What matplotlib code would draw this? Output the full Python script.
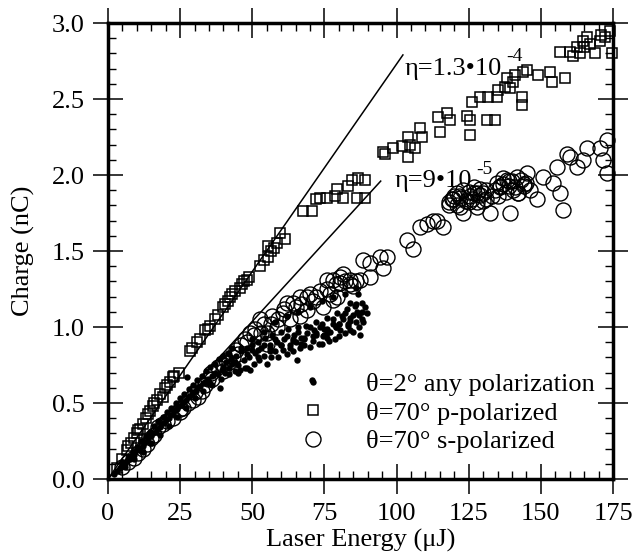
import matplotlib
matplotlib.use("Agg")
import matplotlib.pyplot as plt
from matplotlib.ticker import MultipleLocator

plt.rcParams["font.family"] = ["Liberation Serif", "DejaVu Serif"]
plt.rcParams["font.size"] = 19

# theta = 2 deg, any polarization (small dots)
dot_e = [2, 3, 4, 4.5, 5, 6, 6.5, 7.5, 8, 9, 9.5, 10.5, 11, 12, 12.5, 13.5, 14, 15, 15.5, 16.5,
         17, 18, 18.5, 19.5, 20, 21, 21.5, 22.5, 23, 24, 24.5, 25.5, 26, 27, 27.3, 28, 29, 29.5,
         30.5, 31, 32, 33, 33.5, 34.5, 35, 36, 37, 38, 38.8, 39.5,
         40, 40.5, 41, 42, 42.5, 43, 44, 44.5, 45, 45.7, 46, 47, 47.5, 48, 49, 49.2, 50, 50.5,
         51, 52, 52.5, 53, 54, 54.5, 55, 56, 56.5, 57, 58, 58.5, 59, 60, 60.6, 61, 62, 62.5,
         63, 64, 64.5, 65, 65.5, 66, 66.5, 67, 68, 68.5, 69, 70, 70.7, 71, 71.5, 72, 73, 73.5,
         74, 74.5, 75, 75.9, 76, 76.5, 77, 78, 78.5, 79, 79.3, 80, 80.4, 81, 81.4, 82, 82.8,
         83, 83.9, 84, 84.9, 85, 85.5, 86, 86.3, 86.6, 87, 87.3, 88, 88.4, 89, 89.7,
         42, 46, 50, 54, 58, 62, 66, 70, 74, 78, 82, 86,
         44, 48, 52, 56, 60, 64, 68, 72, 76, 80, 84, 88,
         5, 7, 8.5, 10, 11.5, 13, 14.5, 16, 17.5, 19, 20.5, 22, 23.5, 25, 26.5, 28, 29.5, 31, 32.5,
         34, 35.5, 37, 38.5, 40, 41.5, 43,
         6, 9, 12, 15, 18, 21, 24, 27, 30, 33, 36, 39, 42, 45, 48,
         50, 52, 54, 56, 58, 60, 62, 64, 66, 68, 70, 72, 74, 76, 78, 80, 82, 84, 86, 88,
         63, 67, 71, 75, 79, 83, 87]
dot_q = [0.03, 0.05, 0.07, 0.08, 0.09, 0.10, 0.12, 0.13, 0.15, 0.16, 0.18, 0.20, 0.19, 0.22, 0.24, 0.25, 0.27, 0.28, 0.30, 0.31,
         0.33, 0.34, 0.36, 0.37, 0.39, 0.40, 0.42, 0.43, 0.45, 0.46, 0.48, 0.49, 0.51, 0.52, 0.67, 0.54, 0.56, 0.57,
         0.58, 0.60, 0.61, 0.63, 0.64, 0.66, 0.63, 0.68, 0.70, 0.69, 0.60, 0.72,
         0.74, 0.70, 0.77, 0.73, 0.79, 0.76, 0.71, 0.81, 0.75, 0.72, 0.84, 0.78, 0.73, 0.86, 0.80, 0.72, 0.88, 0.76,
         0.83, 0.90, 0.78, 0.86, 0.81, 0.93, 0.76, 0.88, 0.80, 0.95, 0.84, 0.90, 0.80, 0.97, 0.85, 0.92, 0.82, 0.99,
         0.88, 0.84, 0.95, 0.90, 0.78, 1.00, 0.86, 0.93, 0.88, 1.01, 0.96, 0.87, 0.65, 0.91, 0.98, 1.03, 0.89, 1.00,
         0.89, 0.94, 0.99, 0.93, 1.06, 0.91, 0.97, 1.02, 0.92, 1.00, 1.09, 0.94, 0.98, 1.07, 1.05, 0.96, 1.12,
         1.01, 1.16, 0.98, 0.97, 1.08, 1.14, 1.03, 1.10, 1.22, 1.00, 0.95, 1.05, 1.03, 1.13, 1.09,
         0.82, 0.86, 0.92, 0.97, 1.03, 1.07, 1.10, 1.13, 1.17, 1.20, 1.22, 1.26,
         0.77, 0.82, 0.85, 0.86, 0.88, 0.91, 0.92, 0.95, 0.96, 1.02, 1.04, 1.16,
         0.11, 0.14, 0.18, 0.21, 0.25, 0.28, 0.31, 0.35, 0.38, 0.41, 0.44, 0.47, 0.50, 0.53, 0.56, 0.59, 0.62, 0.65, 0.68,
         0.71, 0.74, 0.76, 0.79, 0.81, 0.83, 0.86,
         0.08, 0.13, 0.18, 0.24, 0.29, 0.35, 0.41, 0.47, 0.53, 0.58, 0.62, 0.66, 0.69, 0.70, 0.73,
         0.85, 0.80, 0.88, 0.84, 0.92, 0.88, 0.94, 0.92, 0.97, 0.93, 1.00, 0.96, 1.02, 0.99, 1.05, 1.02, 1.09, 1.06, 1.15, 1.10,
         0.86, 0.89, 0.94, 0.95, 1.00, 1.02, 1.08]

# theta = 70 deg, p-polarized (squares)
sq_e = [3, 5, 6.5, 7, 8, 9, 10, 10.5, 11, 12, 13, 13.9, 14.5, 15.5, 16, 17, 18, 19, 19.8, 20.5,
        21.5, 22.6, 23, 24.5, 28.4, 29, 30.8, 32, 33.6, 34.5, 35.5, 37.1, 38, 39.8, 40.5, 41.5,
        42.3, 43, 44, 45.7, 46.5, 47, 48.1, 49, 52.7, 54, 55.4, 55.4, 56.5, 57.5, 58.6, 59.6, 61.3,
        67.6, 70.7, 72, 73.5, 75.9, 78.7, 79.3, 81.4, 83, 84.5, 86.6, 86.3, 89, 89,
        95.3, 96, 98.8, 101.9, 104, 104.6, 106.4, 104, 108.1, 108.8, 114.3, 117.5, 115, 118.5,
        124.4, 125.4, 125.4, 131.3, 134, 126.1, 128.9, 131.7, 134.8, 135.1, 137.6, 139.3, 140.3,
        138.3, 141, 143.4, 143.4, 143.8, 145.2, 149, 153.2, 153.9, 158.4, 156.6, 160.1, 162.5,
        163.5, 164.6, 168.7, 170.5, 172.2, 174, 174.6, 166, 165, 167, 161, 171]
sq_q = [0.07, 0.13, 0.19, 0.22, 0.24, 0.27, 0.30, 0.32, 0.33, 0.36, 0.40, 0.43, 0.45, 0.48, 0.50, 0.52, 0.56, 0.54, 0.60, 0.62,
        0.64, 0.67, 0.68, 0.70, 0.84, 0.86, 0.90, 0.92, 0.98, 0.99, 1.01, 1.05, 1.08, 1.13, 1.15, 1.17,
        1.20, 1.22, 1.24, 1.26, 1.28, 1.30, 1.31, 1.33, 1.40, 1.44, 1.46, 1.53, 1.50, 1.52, 1.55, 1.62, 1.58,
        1.76, 1.76, 1.84, 1.85, 1.85, 1.86, 1.91, 1.85, 1.93, 1.97, 1.98, 1.85, 1.85, 1.97,
        2.15, 2.14, 2.18, 2.19, 2.12, 2.20, 2.18, 2.25, 2.31, 2.25, 2.38, 2.41, 2.28, 2.36,
        2.39, 2.36, 2.26, 2.36, 2.36, 2.48, 2.51, 2.51, 2.51, 2.56, 2.58, 2.57, 2.61,
        2.64, 2.66, 2.51, 2.46, 2.68, 2.69, 2.66, 2.68, 2.61, 2.64, 2.81, 2.81, 2.84,
        2.80, 2.88, 2.80, 2.88, 2.91, 2.95, 2.80, 2.91, 2.84, 2.86, 2.78, 2.92]

# theta = 70 deg, s-polarized (circles)
ci_e = [5, 7, 9, 10.4, 12, 13.5, 14.9, 16, 17.3, 19, 20.5, 22.5, 24.9, 26, 27.7, 29.5, 31.2, 32.5,
        33.5, 34.5, 35.7, 38.1, 39.5, 41, 43.3, 44.5, 46, 47.5, 49.2, 50.5, 52.7, 53, 55, 55.1, 56.5,
        58.6, 60.6, 62, 63, 64.1, 66.5, 66.5, 68.9, 69, 71, 73.5, 74.5, 75.9, 77, 78, 78, 79.3, 80.4,
        80.4, 81.4, 83.9, 85, 87.3,
        88.4, 90.8, 94.2, 96.7, 95.3, 90.8, 103.6, 105.7, 110.5, 114, 116, 119.2, 121,
        108, 112.6, 119.5, 122, 125.4, 127.9, 123, 130, 132.4, 134.8, 138.3, 140.3, 141.7, 145.2,
        146.2, 148.6, 139.3, 150.7, 154.2, 155.6, 156.6, 157.7, 160.1, 162.5, 164.6, 166, 170.5,
        172.9, 172.9, 171.5, 159, 123, 118, 121.5, 125, 128, 131, 127, 136, 139, 142, 144, 137, 133, 129,
        118, 120, 121, 122, 124, 125, 126, 127, 128, 129, 130, 131,
        134, 135, 136, 137, 138, 139, 140, 141, 142, 143, 144, 145,
        45, 48, 51, 54, 57, 59, 61, 65, 67, 70, 72, 76, 79, 82, 84, 86,
        36, 40, 42, 30, 25]
ci_q = [0.08, 0.11, 0.14, 0.17, 0.20, 0.23, 0.27, 0.29, 0.34, 0.36, 0.38, 0.40, 0.44, 0.47, 0.50, 0.52, 0.54, 0.58,
        0.62, 0.66, 0.70, 0.74, 0.76, 0.78, 0.80, 0.85, 0.88, 0.92, 0.96, 0.95, 1.05, 0.96, 0.89, 0.96, 1.02,
        1.00, 1.09, 1.16, 1.05, 1.16, 1.07, 1.20, 1.20, 1.11, 1.17, 1.24, 1.13, 1.31, 1.22, 1.31, 1.18, 1.20, 1.33,
        1.29, 1.35, 1.31, 1.27, 1.31,
        1.44, 1.42, 1.46, 1.46, 1.39, 1.33, 1.57, 1.51, 1.68, 1.70, 1.66, 1.84, 1.88,
        1.66, 1.70, 1.84, 1.79, 1.86, 1.79, 1.90, 1.88, 1.75, 1.95, 1.97, 1.90, 1.99, 2.01,
        1.90, 1.84, 1.75, 1.99, 1.95, 2.05, 1.88, 1.77, 2.12, 2.05, 2.10, 2.18, 2.18,
        2.23, 2.01, 2.10, 2.14, 1.75, 1.80, 1.86, 1.82, 1.88, 1.84, 1.92, 1.93, 1.96, 1.88, 1.94, 1.98, 1.86, 1.91,
        1.82, 1.86, 1.80, 1.85, 1.83, 1.89, 1.84, 1.88, 1.82, 1.87, 1.83, 1.90,
        1.90, 1.86, 1.92, 1.94, 1.89, 1.93, 1.96, 1.92, 1.88, 1.97, 1.93, 1.95,
        0.82, 0.90, 0.99, 1.02, 1.07, 1.05, 1.12, 1.13, 1.15, 1.22, 1.20, 1.25, 1.28, 1.30, 1.28, 1.30,
        0.66, 0.71, 0.77, 0.57, 0.46]

# efficiency reference lines, drawn from the origin to their end points
eta_labels = ["\u03b7=1.3\u202210", "\u03b7=9\u202210"]
eta_exponents = ["-4", "-5"]
line_end_e = [102.2, 94.5]
line_end_q = [2.79, 1.96]
label_e = [102.9, 99.4]
label_q = [2.66, 1.92]

legend_labels = ["\u03b8=2\u00b0 any polarization", "\u03b8=70\u00b0 p-polarized", "\u03b8=70\u00b0 s-polarized"]

fig = plt.figure(figsize=(6.33, 5.6), dpi=100)
ax = fig.add_axes([0.1706, 0.1446, 0.7978, 0.8143])

for e_end, q_end in zip(line_end_e, line_end_q):
    ax.plot([0, e_end], [0, q_end], color="black", lw=1.1, zorder=1)

ax.plot(dot_e, dot_q, ls="none", marker="o", ms=4.6, mfc="black", mec="black", mew=0,
        label=legend_labels[0], clip_on=False, zorder=2)
ax.plot(sq_e, sq_q, ls="none", marker="s", ms=7.2, mfc="none", mec="black", mew=1.1,
        label=legend_labels[1], clip_on=False, zorder=3)
ax.plot(ci_e, ci_q, ls="none", marker="o", ms=10.8, mfc="none", mec="black", mew=1.0,
        label=legend_labels[2], clip_on=False, zorder=3)

# main label, then the exponent raised just after its right end
for txt, expo, xe, yq in zip(eta_labels, eta_exponents, label_e, label_q):
    t = ax.text(xe, yq, txt, fontsize=19, ha="left", va="baseline")
    ax.annotate(expo, xy=(1.0, 0.66), xycoords=t, xytext=(3, 0), textcoords="offset points",
                fontsize=14, ha="left", va="bottom")

ax.set_xlim(0, 175)
ax.set_ylim(0, 3.0)
ax.xaxis.set_major_locator(MultipleLocator(25))
ax.xaxis.set_minor_locator(MultipleLocator(5))
ax.yaxis.set_major_locator(MultipleLocator(0.5))
ax.yaxis.set_minor_locator(MultipleLocator(0.1))
ax.yaxis.set_major_formatter(plt.FormatStrFormatter("%.1f"))

ax.tick_params(which="major", direction="inout", length=22, width=1.1,
               top=True, right=True, labelsize=19, pad=6)
ax.tick_params(which="minor", direction="in", length=6, width=1.0, top=True, right=True)
for sp in ax.spines.values():
    sp.set_linewidth(2.5)

ax.set_xlabel("Laser Energy (\u03bcJ)", fontsize=19, labelpad=3)
ax.set_ylabel("Charge (nC)", fontsize=19, labelpad=12)

ax.legend(loc="center left", bbox_to_anchor=(0.354, 0.145), frameon=False, numpoints=1,
          handlelength=2.0, handletextpad=1.0, labelspacing=0.2, borderpad=0,
          borderaxespad=0, fontsize=19)

fig.savefig("out.png", dpi=100)
